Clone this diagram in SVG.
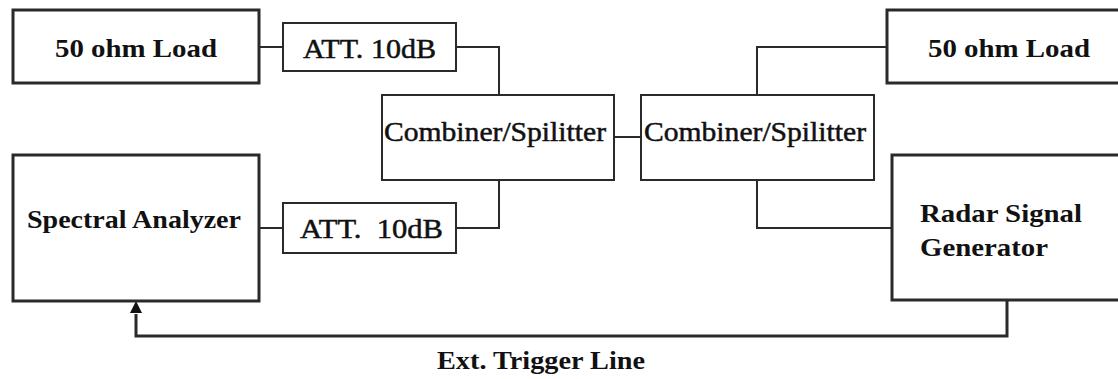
<svg xmlns="http://www.w3.org/2000/svg" width="1118" height="379" viewBox="0 0 1118 379">
<style>
.big{fill:#fff;stroke:#2a2a2a;stroke-width:3}
.small{fill:#fff;stroke:#2a2a2a;stroke-width:2}
.wire{fill:none;stroke:#2a2a2a;stroke-width:2}
.trig{fill:none;stroke:#2a2a2a;stroke-width:3}
text{font-family:"Liberation Serif","Times New Roman",serif;fill:#111}
.b{font-weight:bold;font-size:26px}
.r{font-size:28px;stroke:#111;stroke-width:0.5}
.c{font-size:27px;stroke:#111;stroke-width:0.5}
</style>
<rect width="1118" height="379" fill="#fff"/>
<g id="connectors">
<line class="wire" x1="259" y1="47" x2="283" y2="47"/>
<polyline class="wire" points="456,47 499,47 499,95"/>
<line class="wire" x1="259" y1="228" x2="283" y2="228"/>
<polyline class="wire" points="456,228 499,228 499,180"/>
<line class="wire" x1="614" y1="137" x2="641" y2="137"/>
<polyline class="wire" points="757,95 757,47 887,47"/>
<polyline class="wire" points="757,180 757,228 892,228"/>
<polyline class="trig" points="1007,300 1007,336 136,336 136,314"/>
<path d="M136,301 L142,313 L130,313 Z" fill="#111"/>
</g>
<g id="load-left">
<rect class="big" x="13" y="10" width="246" height="73"/>
<text class="b" x="55" y="57" textLength="162" lengthAdjust="spacingAndGlyphs">50 ohm Load</text>
</g>
<g id="att-top">
<rect class="small" x="283" y="23" width="173" height="48"/>
<text class="r" x="303" y="58" textLength="133" lengthAdjust="spacingAndGlyphs">ATT. 10dB</text>
</g>
<g id="spectral-analyzer">
<rect class="big" x="13" y="155" width="246" height="146"/>
<text class="b" x="27" y="228" textLength="214" lengthAdjust="spacingAndGlyphs">Spectral Analyzer</text>
</g>
<g id="att-bottom">
<rect class="small" x="283" y="203" width="173" height="50"/>
<text class="r" x="300" y="238" textLength="143" lengthAdjust="spacingAndGlyphs" xml:space="preserve">ATT.  10dB</text>
</g>
<g id="combiner-1">
<rect class="small" x="382" y="95" width="232" height="85"/>
<text class="c" x="384" y="141" textLength="222" lengthAdjust="spacingAndGlyphs">Combiner/Spilitter</text>
</g>
<g id="combiner-2">
<rect class="small" x="641" y="95" width="233" height="85"/>
<text class="c" x="644" y="141" textLength="222" lengthAdjust="spacingAndGlyphs">Combiner/Spilitter</text>
</g>
<g id="load-right">
<rect class="big" x="887" y="10" width="240" height="73"/>
<text class="b" x="928" y="57" textLength="162" lengthAdjust="spacingAndGlyphs">50 ohm Load</text>
</g>
<g id="radar-generator">
<rect class="big" x="892" y="155" width="240" height="145"/>
<text class="b" x="920" y="222" textLength="162" lengthAdjust="spacingAndGlyphs">Radar Signal</text>
<text class="b" x="920" y="256" textLength="128" lengthAdjust="spacingAndGlyphs">Generator</text>
</g>
<g id="label-trigger">
<text class="b" x="437" y="369" textLength="208" lengthAdjust="spacingAndGlyphs">Ext. Trigger Line</text>
</g>
</svg>
